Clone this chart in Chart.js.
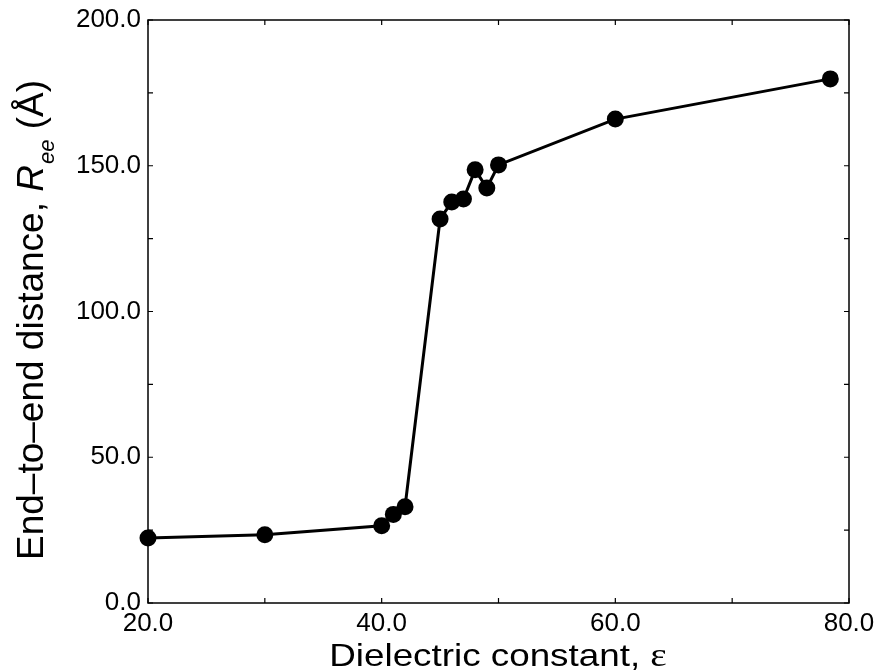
<!DOCTYPE html>
<html>
<head>
<meta charset="utf-8">
<script src="https://cdn.jsdelivr.net/npm/chart.js@4.4.1/dist/chart.umd.min.js"></script>
<style>
  html, body { margin: 0; padding: 0; background: #fff; }
  #wrap { width: 875px; height: 671px; position: relative; }
</style>
</head>
<body>
<div id="wrap"><canvas id="c" width="875" height="671"></canvas></div>
<script>
// Data
const dielectric = [20, 30, 40, 41, 42, 45, 46, 47, 48, 49, 50, 60, 78.4];
const ree        = [22.3, 23.4, 26.5, 30.4, 33.0, 131.7, 137.6, 138.6, 148.6, 142.4, 150.3, 166.0, 179.8];

const xTickValues = [20, 30, 40, 50, 60, 70, 80];
const xLabelValues = [20, 40, 60, 80];
const yTickValues = [0, 25, 50, 75, 100, 125, 150, 175, 200];
const yLabelValues = [0, 50, 100, 150, 200];

const xTitleMain = 'Dielectric constant, ';
const xTitleSym = 'ε';
const yTitleMain = 'End–to–end distance, ';
const yTitleR = 'R';
const yTitleSub = 'ee';
const yTitleUnit = ' (Å)';

const FONT = '"Liberation Sans", Arial, Helvetica, sans-serif';

const framePlugin = {
  id: 'frame',
  beforeDatasetsDraw(chart) {
    const { ctx, chartArea: a, scales } = chart;
    ctx.save();
    ctx.strokeStyle = '#000';
    ctx.lineWidth = 1.5;
    ctx.strokeRect(a.left, a.top, a.right - a.left, a.bottom - a.top);
    const tl = 5;
    ctx.lineWidth = 1.2;
    ctx.beginPath();
    xTickValues.forEach(v => {
      const px = scales.x.getPixelForValue(v);
      ctx.moveTo(px, a.bottom); ctx.lineTo(px, a.bottom - tl);
      ctx.moveTo(px, a.top); ctx.lineTo(px, a.top + tl);
    });
    yTickValues.forEach(v => {
      const py = scales.y.getPixelForValue(v);
      ctx.moveTo(a.left, py); ctx.lineTo(a.left + tl, py);
      ctx.moveTo(a.right, py); ctx.lineTo(a.right - tl, py);
    });
    ctx.stroke();
    ctx.restore();
  },
  afterDraw(chart) {
    const { ctx } = chart;
    ctx.save();
    ctx.fillStyle = '#000';
    ctx.textBaseline = 'alphabetic';
    ctx.textAlign = 'left';
    // X title
    const sx = 1.15;
    ctx.font = '32px ' + FONT;
    const w1 = ctx.measureText(xTitleMain).width;
    ctx.font = '34px "Liberation Serif", "Times New Roman", serif';
    const w2 = ctx.measureText(xTitleSym).width;
    const totalX = (w1 + w2) * sx;
    const cx = 498;
    ctx.save();
    ctx.translate(cx - totalX / 2, 666);
    ctx.scale(sx, 1);
    ctx.font = '32px ' + FONT;
    ctx.fillText(xTitleMain, 0, 0);
    ctx.font = '34px "Liberation Serif", "Times New Roman", serif';
    ctx.fillText(xTitleSym, w1, 0);
    ctx.restore();

    // Y title (rotated)
    const mainFont = '37px ' + FONT;
    const itFont = 'italic 37px ' + FONT;
    const subFont = 'italic 22px ' + FONT;
    ctx.font = mainFont;
    const m1 = ctx.measureText(yTitleMain).width;
    const m4 = ctx.measureText(yTitleUnit).width;
    ctx.font = itFont;
    const m2 = ctx.measureText(yTitleR).width + 1;
    ctx.font = subFont;
    const m3 = ctx.measureText(yTitleSub).width;
    const total = m1 + m2 + m3 + m4;
    const cy = 320;
    ctx.save();
    ctx.translate(43, cy + total / 2);
    ctx.rotate(-Math.PI / 2);
    let x = 0;
    ctx.font = mainFont; ctx.fillText(yTitleMain, x, 0); x += m1;
    ctx.font = itFont; ctx.fillText(yTitleR, x, 0); x += m2;
    ctx.font = subFont; ctx.fillText(yTitleSub, x, 11); x += m3;
    ctx.font = mainFont; ctx.fillText(yTitleUnit, x, 0);
    ctx.restore();
    ctx.restore();
  }
};

new Chart(document.getElementById('c'), {
  type: 'line',
  data: {
    datasets: [{
      data: dielectric.map((d, i) => ({ x: d, y: ree[i] })),
      borderColor: '#000',
      backgroundColor: '#000',
      borderWidth: 3,
      pointRadius: 8.5,
      pointHoverRadius: 8.5,
      pointBackgroundColor: '#000',
      pointBorderColor: '#000',
      pointBorderWidth: 0,
      tension: 0,
      clip: false
    }]
  },
  options: {
    responsive: false,
    animation: false,
    events: [],
    layout: { padding: { top: 20, right: 26, left: 0, bottom: 0 } },
    plugins: { legend: { display: false }, tooltip: { enabled: false } },
    scales: {
      x: {
        type: 'linear',
        min: 20, max: 80,
        afterBuildTicks: s => { s.ticks = xLabelValues.map(v => ({ value: v })); },
        ticks: {
          callback: v => Number(v).toFixed(1),
          color: '#000',
          font: { family: FONT, size: 26 },
          padding: 5,
          maxRotation: 0,
          autoSkip: false
        },
        grid: { display: false, drawTicks: false },
        border: { display: false },
        afterFit: s => { s.height = 68; s.paddingLeft = 0; s.paddingRight = 0; }
      },
      y: {
        type: 'linear',
        min: 0, max: 200,
        afterBuildTicks: s => { s.ticks = yLabelValues.map(v => ({ value: v })); },
        ticks: {
          callback: v => Number(v).toFixed(1),
          color: '#000',
          font: { family: FONT, size: 26 },
          padding: 7,
          autoSkip: false
        },
        grid: { display: false, drawTicks: false },
        border: { display: false },
        afterFit: s => { s.width = 148; s.paddingTop = 0; s.paddingBottom = 0; }
      }
    }
  },
  plugins: [framePlugin]
});
</script>
</body>
</html>
